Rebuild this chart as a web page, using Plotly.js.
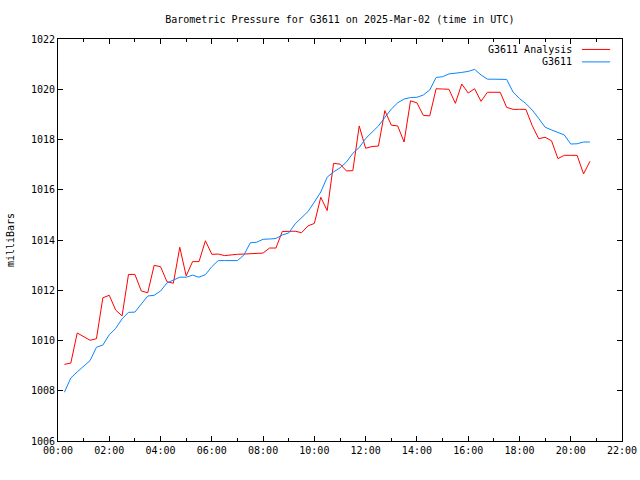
<!DOCTYPE html>
<html>
<head>
<meta charset="utf-8">
<script src="https://cdn.plot.ly/plotly-3.0.1.min.js"></script>
<style>html,body{margin:0;padding:0;background:#fff;}#chart{width:640px;height:480px;}</style>
</head>
<body>
<div id="chart"></div>
<script>
// Times: every 15 minutes from 00:15 to 20:45 UTC on 2025-03-02
const times = ["00:15","00:30","00:45","01:00","01:15","01:30","01:45","02:00","02:15","02:30","02:45","03:00","03:15","03:30","03:45","04:00","04:15","04:30","04:45","05:00","05:15","05:30","05:45","06:00","06:15","06:30","06:45","07:00","07:15","07:30","07:45","08:00","08:15","08:30","08:45","09:00","09:15","09:30","09:45","10:00","10:15","10:30","10:45","11:00","11:15","11:30","11:45","12:00","12:15","12:30","12:45","13:00","13:15","13:30","13:45","14:00","14:15","14:30","14:45","15:00","15:15","15:30","15:45","16:00","16:15","16:30","16:45","17:00","17:15","17:30","17:45","18:00","18:15","18:30","18:45","19:00","19:15","19:30","19:45","20:00","20:15","20:30","20:45"];

const analysis = [1009.05,1009.10,1010.30,1010.16,1010.01,1010.07,1011.70,1011.80,1011.21,1010.98,1012.63,1012.63,1011.97,1011.90,1012.99,1012.94,1012.34,1012.28,1013.71,1012.57,1013.14,1013.14,1013.97,1013.43,1013.44,1013.38,1013.41,1013.43,1013.44,1013.45,1013.47,1013.48,1013.68,1013.68,1014.34,1014.35,1014.35,1014.29,1014.56,1014.66,1015.70,1015.17,1017.05,1017.02,1016.75,1016.76,1018.54,1017.65,1017.72,1017.74,1019.15,1018.57,1018.54,1017.90,1019.54,1019.46,1018.96,1018.94,1020.02,1020.01,1020.00,1019.44,1020.21,1019.85,1020.02,1019.52,1019.88,1019.88,1019.88,1019.28,1019.20,1019.20,1019.20,1018.55,1018.03,1018.09,1017.95,1017.24,1017.37,1017.37,1017.37,1016.63,1017.13];

const station = [1007.94,1008.51,1008.75,1008.98,1009.20,1009.73,1009.82,1010.23,1010.48,1010.86,1011.12,1011.13,1011.47,1011.77,1011.80,1011.97,1012.29,1012.42,1012.52,1012.52,1012.60,1012.52,1012.62,1012.94,1013.18,1013.18,1013.18,1013.18,1013.40,1013.89,1013.91,1014.03,1014.04,1014.06,1014.20,1014.28,1014.64,1014.90,1015.13,1015.51,1015.91,1016.50,1016.71,1016.87,1017.10,1017.45,1017.68,1018.04,1018.30,1018.54,1018.88,1019.21,1019.46,1019.61,1019.67,1019.68,1019.77,1019.97,1020.47,1020.50,1020.61,1020.63,1020.67,1020.71,1020.79,1020.57,1020.40,1020.40,1020.40,1020.39,1019.89,1019.63,1019.43,1019.17,1018.84,1018.49,1018.38,1018.28,1018.18,1017.82,1017.83,1017.90,1017.90];

const seriesNames = ["G3611 Analysis", "G3611"];
const seriesColors = ["#ff0000", "#0a84ff"];
const dateStr = "2025-03-02";
const xs = times.map(t => dateStr + " " + t + ":00");

const mono = "DejaVu Sans Mono, Liberation Mono, monospace";

const traces = [
  {x: xs, y: analysis, type: "scatter", mode: "lines", name: seriesNames[0],
   line: {color: seriesColors[0], width: 1}},
  {x: xs, y: station, type: "scatter", mode: "lines", name: seriesNames[1],
   line: {color: seriesColors[1], width: 1}}
];

const legendY = [0.974, 0.943];
const annotations = seriesNames.map((n, i) => ({
  xref: "paper", yref: "paper", x: 0.915, y: legendY[i], xanchor: "right", yanchor: "middle",
  text: n, showarrow: false, font: {family: mono, size: 10, color: "#000"}
}));
const shapes = seriesNames.map((n, i) => ({
  type: "line", xref: "paper", yref: "paper", x0: 0.929, x1: 0.979, y0: legendY[i], y1: legendY[i],
  line: {color: seriesColors[i], width: 1}
}));

const layout = {
  width: 640, height: 480,
  margin: {l: 58, r: 18, t: 39, b: 39, pad: 0},
  paper_bgcolor: "#fff", plot_bgcolor: "#fff",
  showlegend: false,
  title: {text: "Barometric Pressure for G3611 on 2025-Mar-02 (time in UTC)",
          font: {family: mono, size: 10, color: "#000"},
          x: 0.531, xanchor: "center", y: 0.96, yanchor: "middle"},
  xaxis: {
    type: "date",
    range: [dateStr + " 00:00:00", "2025-03-02 22:00:00"],
    tickformat: "%H:%M", dtick: 7200000, tick0: dateStr + " 00:00:00",
    ticks: "inside", ticklen: 5, tickcolor: "#000", tickwidth: 1,
    minor: {dtick: 3600000, ticks: "inside", ticklen: 3, tickcolor: "#000"},
    showline: true, linecolor: "#000", linewidth: 1, mirror: "ticks",
    showgrid: false, zeroline: false,
    tickfont: {family: mono, size: 10, color: "#000"}
  },
  yaxis: {
    range: [1006, 1022], dtick: 2, tick0: 1006,
    ticks: "inside", ticklen: 5, tickcolor: "#000", tickwidth: 1,
    showline: true, linecolor: "#000", linewidth: 1, mirror: "ticks",
    showgrid: false, zeroline: false,
    tickfont: {family: mono, size: 10, color: "#000"},
    title: {text: "milliBars", font: {family: mono, size: 10, color: "#000"}, standoff: 14}
  },
  annotations: annotations,
  shapes: shapes
};

Plotly.newPlot("chart", traces, layout, {staticPlot: true, displayModeBar: false});
</script>
</body>
</html>
